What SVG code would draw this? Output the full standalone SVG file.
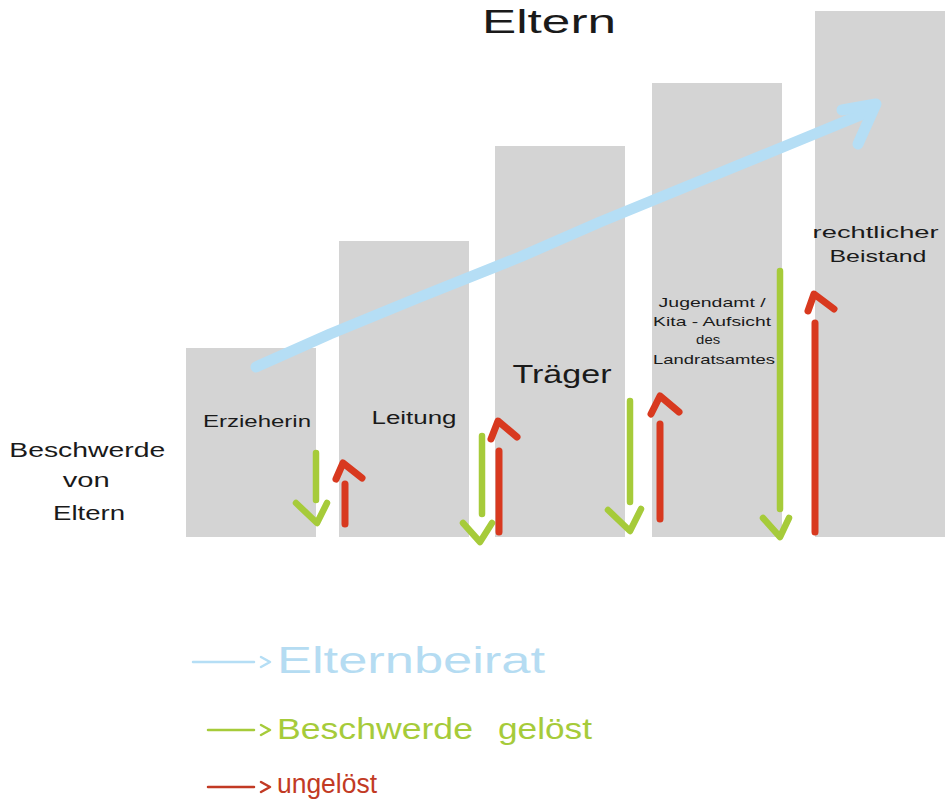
<svg xmlns="http://www.w3.org/2000/svg" width="945" height="805" viewBox="0 0 945 805">
<style>
.bar{fill:#d4d4d4}
.t{font-family:"Liberation Sans","DejaVu Sans",sans-serif;fill:#1a1a1a}
.g{fill:none;stroke:#a6cb3a;stroke-width:6.5;stroke-linecap:round;stroke-linejoin:round}
.r{fill:none;stroke:#d8391f;stroke-width:7;stroke-linecap:round;stroke-linejoin:round}
.b{fill:none;stroke:#b5def5;stroke-width:11;stroke-linecap:round;stroke-linejoin:round}
.lg{fill:none;stroke-width:2.5;stroke-linecap:round;stroke-linejoin:round}
</style>
<rect width="945" height="805" fill="#ffffff"/>
<g id="title"><text class="t" x="549" y="33" font-size="34" text-anchor="middle" textLength="134" lengthAdjust="spacingAndGlyphs">Eltern</text></g>
<g id="start"><text class="t" font-size="20" text-anchor="middle">
<tspan x="90" y="457" textLength="156" lengthAdjust="spacingAndGlyphs">Beschwerde</tspan>
<tspan x="89" y="487" textLength="47" lengthAdjust="spacingAndGlyphs">von</tspan>
<tspan x="89" y="520" textLength="72" lengthAdjust="spacingAndGlyphs">Eltern</tspan></text></g>
<g id="erzieherin"><rect class="bar" x="186" y="348" width="130" height="189"/>
<text class="t" x="257" y="427" font-size="16" text-anchor="middle" textLength="108" lengthAdjust="spacingAndGlyphs">Erzieherin</text></g>
<g id="leitung"><rect class="bar" x="339" y="241" width="130" height="296"/>
<text class="t" x="414" y="424" font-size="18" text-anchor="middle" textLength="85" lengthAdjust="spacingAndGlyphs">Leitung</text></g>
<g id="traeger"><rect class="bar" x="495" y="146" width="130" height="391"/>
<text class="t" x="562" y="383" font-size="25" text-anchor="middle" textLength="99" lengthAdjust="spacingAndGlyphs">Träger</text></g>
<g id="jugendamt"><rect class="bar" x="652" y="83" width="130" height="454"/>
<text class="t" font-size="13.5" text-anchor="middle">
<tspan x="714" y="307" textLength="107" lengthAdjust="spacingAndGlyphs">Jugendamt /</tspan>
<tspan x="714" y="326" textLength="118" lengthAdjust="spacingAndGlyphs">Kita - Aufsicht</tspan>
<tspan x="710" y="344" textLength="24" lengthAdjust="spacingAndGlyphs">des</tspan>
<tspan x="714" y="364" textLength="122" lengthAdjust="spacingAndGlyphs">Landratsamtes</tspan></text></g>
<g id="beistand"><rect class="bar" x="815" y="11" width="130" height="526"/>
<text class="t" font-size="17" text-anchor="middle">
<tspan x="878" y="238" textLength="126" lengthAdjust="spacingAndGlyphs">rechtlicher</tspan>
<tspan x="878" y="262" textLength="97" lengthAdjust="spacingAndGlyphs">Beistand</tspan></text></g>
<g id="connectors">
<path class="b" d="M256 367 L330 334 L420 297 L520 257 L600 222 L700 181 L800 140 L868 112"/>
<path class="b" d="M842 110 L876 104 L858 144"/>
<path class="g" d="M316 453 L316 500 M296 503 L317 523 L327 503"/>
<path class="r" d="M345 484 L345 524 M336 479 L343 463 L362 478"/>
<path class="g" d="M482 436 L482 514 M463 523 L480 542 L492 523"/>
<path class="r" d="M499 451 L499 532 M491 439 L498 421 L517 437"/>
<path class="g" d="M630 401 L630 502 M608 510 L630 531 L641 509"/>
<path class="r" d="M660 424 L660 519 M651 414 L660 396 L679 412"/>
<path class="g" d="M780 271 L780 509 M763 518 L780 537 L789 518"/>
<path class="r" d="M815 323 L815 532 M808 311 L814 294 L834 309"/>
</g>
<g id="legend">
<path class="lg" stroke="#b5def5" d="M193 662 L254 662 M261 657 L270 662 L261 667"/>
<text x="277" y="673" font-family="Liberation Sans, DejaVu Sans, sans-serif" font-size="36" fill="#b5dcf2" textLength="268" lengthAdjust="spacingAndGlyphs">Elternbeirat</text>
<path class="lg" stroke="#a6cb3a" d="M208 730 L254 730 M261 725 L270 730 L261 735"/>
<text font-family="Liberation Sans, DejaVu Sans, sans-serif" font-size="29" fill="#a6cb3a"><tspan x="277" y="739" textLength="196" lengthAdjust="spacingAndGlyphs">Beschwerde</tspan><tspan x="498" y="739" textLength="94" lengthAdjust="spacingAndGlyphs">gelöst</tspan></text>
<path class="lg" stroke="#c23a24" d="M208 787 L254 787 M261 782 L270 787 L261 792"/>
<text x="277" y="793" font-family="Liberation Sans, DejaVu Sans, sans-serif" font-size="27" fill="#c23a24" textLength="100" lengthAdjust="spacingAndGlyphs">ungelöst</text>
</g>
</svg>
